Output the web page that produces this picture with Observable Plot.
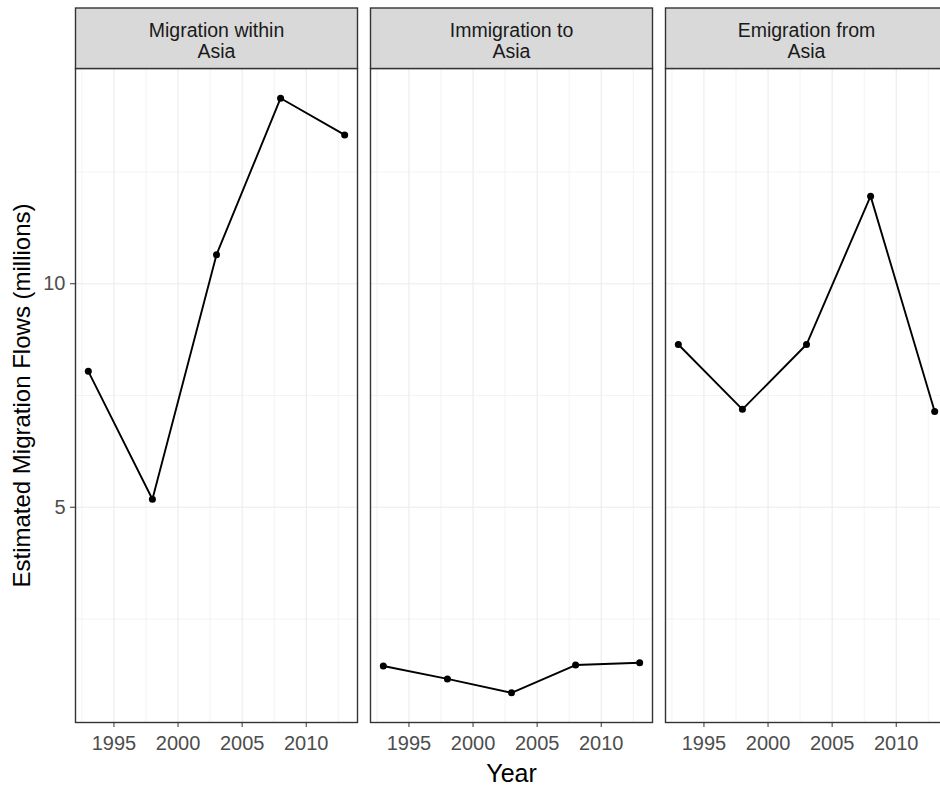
<!DOCTYPE html>
<html>
<head>
<meta charset="utf-8">
<script src="https://cdn.jsdelivr.net/npm/d3@7"></script>
<script src="https://cdn.jsdelivr.net/npm/@observablehq/plot@0.6"></script>
<style>
  html, body { margin: 0; padding: 0; overflow: hidden; background: #fff; }
  #chart svg { max-width: none !important; display: block; }
</style>
</head>
<body>
<div id="chart"></div>
<script>
// ---- data ----
const panels = ["Migration within\nAsia", "Immigration to\nAsia", "Emigration from\nAsia"];
const years = [1993, 1998, 2003, 2008, 2013];
const withinAsia = [8.04, 5.18, 10.65, 14.15, 13.33];
const immigrationTo = [1.45, 1.16, 0.85, 1.47, 1.52];
const emigrationFrom = [8.64, 7.19, 8.64, 11.96, 7.14];
const xTicks = [1995, 2000, 2005, 2010];
const xMinor = [1992.5, 1997.5, 2002.5, 2007.5, 2012.5];
const yTicks = [5, 10];
const yMinor = [2.5, 7.5, 12.5];
const xTitle = "Year";
const yTitle = "Estimated Migration Flows (millions)";

const series = [withinAsia, immigrationTo, emigrationFrom];
const data = panels.flatMap((p, i) => years.map((yr, j) => ({panel: p, year: yr, value: series[i][j]})));

// ggplot-style 5% expansion
const [ylo, yhi] = d3.extent(data, d => d.value);
const ypad = (yhi - ylo) * 0.05;
const [xlo, xhi] = d3.extent(years);
const xpad = (xhi - xlo) * 0.05;

const font = "'Liberation Sans', Arial, sans-serif";
const panelTop = 68, panelBottom = 722, H = 789;

const chart = Plot.plot({
  width: 948,
  height: H,
  marginLeft: 74,
  marginRight: 0,
  marginTop: panelTop,
  marginBottom: H - panelBottom,
  style: {fontFamily: font, maxWidth: "none", background: "#fff"},
  fx: {domain: panels, axis: null, paddingInner: 0.0443, paddingOuter: 0, label: null},
  x: {domain: [xlo - xpad, xhi + xpad], label: null},
  y: {domain: [ylo - ypad, yhi + ypad], label: null},
  marks: [
    Plot.ruleY(yMinor, {stroke: "#ebebeb", strokeWidth: 0.6}),
    Plot.ruleX(xMinor, {stroke: "#ebebeb", strokeWidth: 0.6}),
    Plot.ruleY(yTicks, {stroke: "#ebebeb", strokeWidth: 1.1}),
    Plot.ruleX(xTicks, {stroke: "#ebebeb", strokeWidth: 1.1}),
    Plot.line(data, {fx: "panel", x: "year", y: "value", stroke: "#000", strokeWidth: 1.9}),
    Plot.dot(data, {fx: "panel", x: "year", y: "value", r: 3.5, fill: "#000", stroke: "none"}),
    Plot.frame({stroke: "#333", strokeWidth: 1.4}),
    Plot.frame({fill: "#d9d9d9", stroke: "#333", strokeWidth: 1.4, insetTop: -60.5, insetBottom: panelBottom - panelTop}),
    Plot.text(panels, {fx: d => d, text: d => d, frameAnchor: "top", lineAnchor: "top", dy: -46,
      lineHeight: 1.07, fontSize: 19.5, fill: "#1a1a1a"}),
    Plot.axisY(yTicks, {tickSize: 5, tickPadding: 5, fontSize: 20, stroke: "#333", fill: "#4d4d4d", label: null, tickFormat: d3.format("d")}),
    Plot.axisX(xTicks, {tickSize: 5, tickPadding: 8, fontSize: 20, stroke: "#333", fill: "#4d4d4d", label: null, tickFormat: d3.format("d")}),
    Plot.text([xTitle], {facet: "super", frameAnchor: "bottom", lineAnchor: "middle", dy: 51, fontSize: 25, fill: "#000"}),
    Plot.text([yTitle], {facet: "super", frameAnchor: "left", textAnchor: "middle", rotate: -90, lineAnchor: "middle", dx: -53, fontSize: 24, fill: "#000"})
  ]
});
document.getElementById("chart").appendChild(chart);
</script>
</body>
</html>
